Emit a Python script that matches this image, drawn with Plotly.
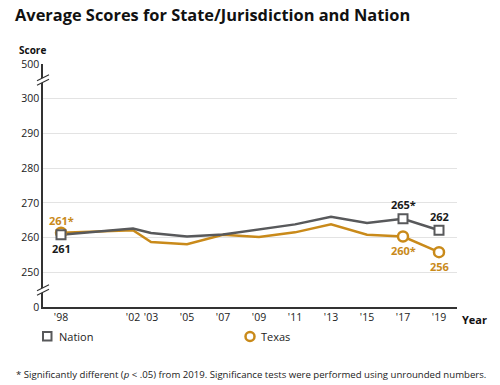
import plotly.graph_objects as go

# ---- data ----
years = [1998, 2002, 2003, 2005, 2007, 2009, 2011, 2013, 2015, 2017, 2019]
year_labels = ["'98", "'02", "'03", "'05", "'07", "'09", "'11", "'13", "'15", "'17", "'19"]
nation = [260.8, 262.6, 261.3, 260.3, 260.9, 262.3, 263.8, 266.0, 264.2, 265.4, 262.1]
texas = [261.4, 262.1, 258.7, 258.1, 260.8, 260.2, 261.5, 263.8, 260.8, 260.3, 255.8]
marked_years = [1998, 2017, 2019]
nation_labels = ["261", "265*", "262"]
texas_labels = ["261*", "260*", "256"]
y_tick_vals = [240, 250, 260, 270, 280, 290, 300, 310]
y_tick_text = ["0", "250", "260", "270", "280", "290", "300", "500"]

# ---- style ----
NAT = "#58595b"
TX = "#c98a1a"
FONT = "Open Sans"
W, H = 500, 385
L, T = 43, 64
R, B = 500 - 457, 385 - 307
PW, PH = W - L - R, H - T - B

def px(x):  # page pixel x -> paper
    return (x - L) / PW

def py(y):  # page pixel y -> paper
    return (H - B - y) / PH

fig = go.Figure()

def sub(vals):
    return [v for yr, v in zip(years, vals) if yr in marked_years]

fig.add_trace(go.Scatter(x=years, y=texas, mode="lines",
                         line=dict(color=TX, width=2.5), showlegend=False, hoverinfo="skip"))
fig.add_trace(go.Scatter(x=years, y=nation, mode="lines",
                         line=dict(color=NAT, width=2.5), showlegend=False, hoverinfo="skip"))
fig.add_trace(go.Scatter(x=marked_years, y=sub(texas), mode="markers",
                         marker=dict(symbol="circle", size=10, color="white",
                                     line=dict(color=TX, width=2.5)),
                         showlegend=False, hoverinfo="skip"))
fig.add_trace(go.Scatter(x=marked_years, y=sub(nation), mode="markers",
                         marker=dict(symbol="square", size=9, color="white",
                                     line=dict(color=NAT, width=2)),
                         showlegend=False, hoverinfo="skip"))

annotations = []
nat_pos = ["below", "above", "above"]
tx_pos = ["above", "below", "below"]
for yr, v, t, p in zip(marked_years, sub(nation), nation_labels, nat_pos):
    annotations.append(dict(x=yr, y=v, xref="x", yref="y", text=f"<b>{t}</b>", showarrow=False,
                            font=dict(family=FONT, size=11, color="#1a1a1a"),
                            yshift=14 if p == "above" else -14))
for yr, v, t, p in zip(marked_years, sub(texas), texas_labels, tx_pos):
    annotations.append(dict(x=yr, y=v, xref="x", yref="y", text=f"<b>{t}</b>", showarrow=False,
                            font=dict(family=FONT, size=11, color=TX),
                            yshift=12 if p == "above" else -14))

annotations += [
    dict(x=px(13), y=py(15), xref="paper", yref="paper", xanchor="left", yanchor="middle",
         text="<b>Average Scores for State/Jurisdiction and Nation</b>", showarrow=False,
         font=dict(family=FONT, size=16.4, color="#111")),
    dict(x=px(17), y=py(50), xref="paper", yref="paper", xanchor="left", yanchor="middle",
         text="<b>Score</b>", showarrow=False, font=dict(family=FONT, size=10, color="#111")),
    dict(x=px(460), y=py(319), xref="paper", yref="paper", xanchor="left", yanchor="middle",
         text="<b>Year</b>", showarrow=False, font=dict(family=FONT, size=11, color="#111")),
    dict(x=px(57), y=py(336.5), xref="paper", yref="paper", xanchor="left", yanchor="middle",
         text="Nation", showarrow=False, font=dict(family=FONT, size=11, color="#222")),
    dict(x=px(259), y=py(336.5), xref="paper", yref="paper", xanchor="left", yanchor="middle",
         text="Texas", showarrow=False, font=dict(family=FONT, size=11, color="#222")),
    dict(x=px(14), y=py(374), xref="paper", yref="paper", xanchor="left", yanchor="middle",
         text="* Significantly different (<i>p</i> < .05) from 2019. Significance tests were performed using unrounded numbers.",
         showarrow=False, font=dict(family=FONT, size=9.6, color="#222")),
]

shapes = []
for yc in (80, 290):
    x0, x1 = 37, 49
    d = 2.2
    path = (f"M {px(x0)},{py(yc + 3 - d)} L {px(x1)},{py(yc - 3 - d)} "
            f"L {px(x1)},{py(yc - 3 + d)} L {px(x0)},{py(yc + 3 + d)} Z")
    shapes.append(dict(type="path", xref="paper", yref="paper", path=path,
                       fillcolor="white", line=dict(width=0)))
    for s in (-d, d):
        shapes.append(dict(type="line", xref="paper", yref="paper",
                           x0=px(x0), y0=py(yc + 3 + s), x1=px(x1), y1=py(yc - 3 + s),
                           line=dict(color="#333", width=1.2)))
shapes.append(dict(type="rect", xref="paper", yref="paper",
                   x0=px(43), x1=px(51.5), y0=py(332), y1=py(340.5),
                   fillcolor="white", line=dict(color=NAT, width=2)))
shapes.append(dict(type="circle", xref="paper", yref="paper",
                   x0=px(245.5), x1=px(254.5), y0=py(332), y1=py(341),
                   fillcolor="white", line=dict(color=TX, width=2.5)))

fig.update_layout(
    width=W, height=H,
    margin=dict(l=L, r=R, t=T, b=B),
    paper_bgcolor="white", plot_bgcolor="white",
    font=dict(family=FONT, size=10, color="#222"),
    showlegend=False,
    annotations=annotations,
    shapes=shapes,
    xaxis=dict(range=[1997, 2020], tickvals=years, ticktext=year_labels,
               showgrid=False, zeroline=False, showline=True, linecolor="#333", linewidth=1.5,
               ticks="", tickfont=dict(family=FONT, size=10.5, color="#222"), fixedrange=True),
    yaxis=dict(range=[240, 310], tickvals=y_tick_vals, ticktext=y_tick_text,
               showgrid=True, gridcolor="#e3e3e3", gridwidth=1, zeroline=False,
               showline=True, linecolor="#333", linewidth=1.5, ticks="",
               tickfont=dict(family=FONT, size=10.5, color="#222"), fixedrange=True),
)

fig.write_html("out.html", config={"displayModeBar": False},
               post_script="document.body.style.margin='0';document.body.style.overflow='hidden';")
